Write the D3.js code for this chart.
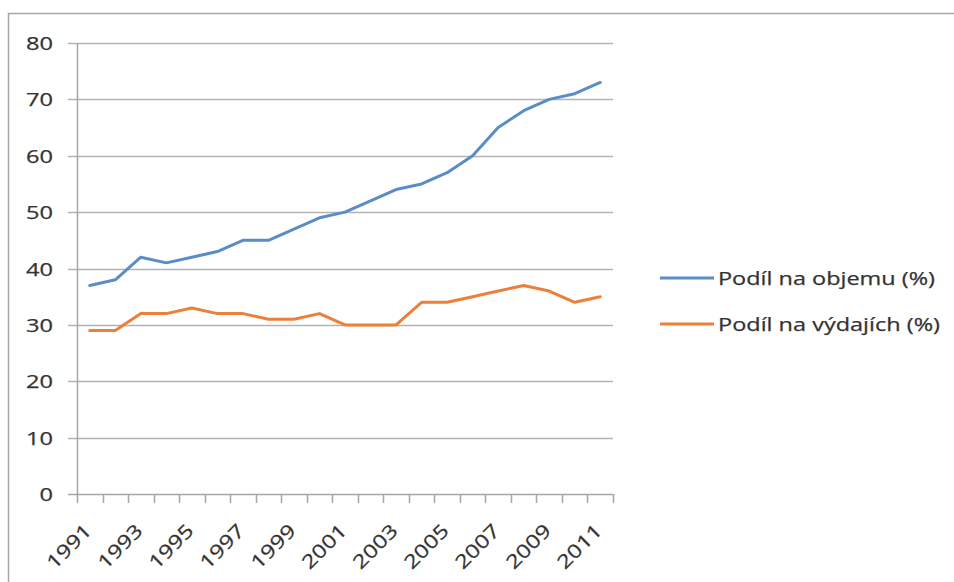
<!DOCTYPE html>
<html>
<head>
<meta charset="utf-8">
<script src="https://cdn.jsdelivr.net/npm/d3@7"></script>
<style>
  html, body { margin: 0; padding: 0; background: #fff; }
  svg { display: block; }
  text { font-family: "Open Sans", "Noto Sans", sans-serif; fill: #333; stroke: #333; stroke-width: 0.25; }
</style>
</head>
<body>
<svg id="chart" width="954" height="582"></svg>
<script>
// Years on the category axis
const years = [1991, 1992, 1993, 1994, 1995, 1996, 1997, 1998, 1999, 2000,
               2001, 2002, 2003, 2004, 2005, 2006, 2007, 2008, 2009, 2010, 2011];
// Share of volume (%)
const podilObjem = [37, 38, 42, 41, 42, 43, 45, 45, 47, 49,
                    50, 52, 54, 55, 57, 60, 65, 68, 70, 71, 73];
// Share of expenditure (%)
const podilVydaje = [29, 29, 32, 32, 33, 32, 32, 31, 31, 32,
                     30, 30, 30, 34, 34, 35, 36, 37, 36, 34, 35];
const seriesNames = ["Podíl na objemu (%)", "Podíl na výdajích (%)"];
const seriesColors = ["#5a8dc6", "#ec7f3a"];
const yTicks = [0, 10, 20, 30, 40, 50, 60, 70, 80];
const xLabelYears = years.filter((y, i) => i % 2 === 0);

const svg = d3.select("#chart");

// outer frame (top and left edges visible)
svg.append("rect")
  .attr("x", 8.5).attr("y", 13.5)
  .attr("width", 1000).attr("height", 1000)
  .attr("fill", "#fff").attr("stroke", "#a6a6a6").attr("stroke-width", 1.5);

const plot = { left: 77, right: 613, top: 43, bottom: 494 };

const x = d3.scaleBand().domain(years).range([plot.left, plot.right]).padding(0);
const y = d3.scaleLinear().domain([0, 80]).range([plot.bottom, plot.top]);

// horizontal gridlines (extend left of the axis as tick marks)
svg.append("g")
  .selectAll("line")
  .data(yTicks.filter(t => t > 0))
  .join("line")
  .attr("x1", plot.left - 9).attr("x2", plot.right)
  .attr("y1", d => Math.round(y(d)) + 0.5).attr("y2", d => Math.round(y(d)) + 0.5)
  .attr("stroke", "#b3b3b3").attr("stroke-width", 1.5);

// y axis line
svg.append("line")
  .attr("x1", plot.left + 0.5).attr("x2", plot.left + 0.5)
  .attr("y1", plot.top).attr("y2", plot.bottom)
  .attr("stroke", "#a6a6a6").attr("stroke-width", 1.5);

// x axis with ticks between categories
const boundaries = years.map(d => x(d)).concat([plot.right]);
const xAxisG = svg.append("g");
xAxisG.append("line")
  .attr("x1", plot.left - 9).attr("x2", plot.right)
  .attr("y1", plot.bottom + 0.5).attr("y2", plot.bottom + 0.5)
  .attr("stroke", "#a6a6a6").attr("stroke-width", 1.5);
xAxisG.selectAll("line.tick")
  .data(boundaries)
  .join("line")
  .attr("class", "tick")
  .attr("x1", d => Math.round(d) + 0.5).attr("x2", d => Math.round(d) + 0.5)
  .attr("y1", plot.bottom).attr("y2", plot.bottom + 9)
  .attr("stroke", "#a6a6a6").attr("stroke-width", 1.5);

// y tick labels
svg.append("g")
  .selectAll("text")
  .data(yTicks)
  .join("text")
  .attr("x", 53)
  .attr("y", d => y(d) + 7)
  .attr("text-anchor", "end")
  .attr("font-size", 19)
  .attr("textLength", d => String(d).length * 13.5)
  .attr("lengthAdjust", "spacingAndGlyphs")
  .text(d => d);

// x tick labels, rotated
svg.append("g")
  .selectAll("text")
  .data(xLabelYears)
  .join("text")
  .attr("transform", d => `translate(${x(d) + x.bandwidth() / 2 + 3},${532}) rotate(-45)`)
  .attr("text-anchor", "end")
  .attr("font-size", 19)
  .attr("textLength", 54)
  .attr("lengthAdjust", "spacingAndGlyphs")
  .text(d => d);

// series lines
const line = d3.line()
  .x((d, i) => x(years[i]) + x.bandwidth() / 2)
  .y(d => y(d));

[podilObjem, podilVydaje].forEach((vals, k) => {
  svg.append("path")
    .datum(vals)
    .attr("d", line)
    .attr("fill", "none")
    .attr("stroke", seriesColors[k])
    .attr("stroke-width", 3)
    .attr("stroke-linejoin", "round")
    .attr("stroke-linecap", "round");
});

// legend
const legendRows = [278, 324];
const legendWidths = [217, 222];
const legend = svg.append("g");
seriesNames.forEach((name, k) => {
  legend.append("line")
    .attr("x1", 660).attr("x2", 714)
    .attr("y1", legendRows[k]).attr("y2", legendRows[k])
    .attr("stroke", seriesColors[k]).attr("stroke-width", 3);
  legend.append("text")
    .attr("x", 718).attr("y", legendRows[k] + 7)
    .attr("font-size", 19)
    .attr("textLength", legendWidths[k])
    .attr("lengthAdjust", "spacingAndGlyphs")
    .text(name);
});
</script>
</body>
</html>
